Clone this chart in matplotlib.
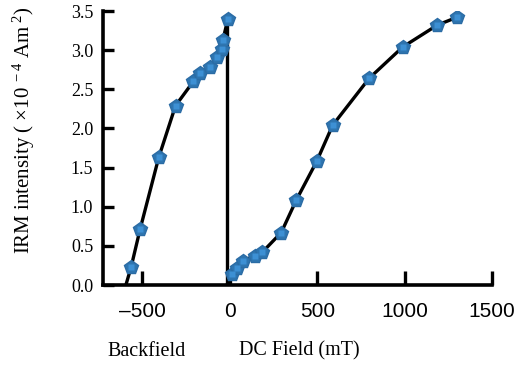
import matplotlib
matplotlib.use("Agg")
import matplotlib.pyplot as plt

# --- data ---
backfield_field = [-565, -514, -407, -311, -209, -170, -113, -73, -45, -40, -11]
backfield_irm = [0.23, 0.71, 1.63, 2.29, 2.60, 2.71, 2.79, 2.91, 3.02, 3.13, 3.40]
backfield_line_start = (-595, 0.0)

dc_field = [11, 40, 73, 141, 186, 294, 379, 497, 588, 797, 989, 1187, 1300]
dc_irm = [0.14, 0.22, 0.31, 0.37, 0.42, 0.67, 1.08, 1.58, 2.04, 2.64, 3.04, 3.32, 3.42]

reset_field = -17
reset_top = 3.45

x_ticks = [-500, 0, 500, 1000, 1500]
x_ticklabels = ["\u2013500", "0", "500", "1000", "1500"]
y_ticks = [0.0, 0.5, 1.0, 1.5, 2.0, 2.5, 3.0, 3.5]
y_ticklabels = ["0.0", "0.5", "1.0", "1.5", "2.0", "2.5", "3.0", "3.5"]

plt.rcParams["mathtext.fontset"] = "custom"
plt.rcParams["mathtext.rm"] = "Liberation Serif"
plt.rcParams["mathtext.it"] = "Liberation Serif"

fig = plt.figure(figsize=(5.27, 3.67), dpi=100)
ax = fig.add_axes([103 / 527, 1 - 285 / 367, (492 - 103) / 527, (285 - 11) / 367])

line_kw = dict(color="black", lw=2.4, solid_capstyle="round", zorder=2)
ax.plot([backfield_line_start[0]] + backfield_field,
        [backfield_line_start[1]] + backfield_irm, **line_kw)
ax.plot([reset_field, reset_field], [0, reset_top], **line_kw)
ax.plot([reset_field] + dc_field, [0.0] + dc_irm, **line_kw)

mk_outer = dict(ls="none", marker="p", ms=10.5, mfc="#2e75b0", mec="#2b6ca5", mew=1.0, zorder=3)
mk_inner = dict(ls="none", marker="s", ms=4, mfc="#3d90d4", mec="none", zorder=4)
for xs, ys in [(backfield_field, backfield_irm), (dc_field, dc_irm)]:
    ax.plot(xs, ys, **mk_outer)
    ax.plot(xs, ys, **mk_inner)

ax.set_xlim(-726, 1500)
ax.set_ylim(0, 3.5)
for s in ["top", "right"]:
    ax.spines[s].set_visible(False)
for s in ["left", "bottom"]:
    ax.spines[s].set_linewidth(2.6)
ax.spines["bottom"].set_bounds(-726, 1500)

ax.set_xticks(x_ticks)
ax.set_xticklabels(x_ticklabels, fontfamily="Liberation Sans", fontsize=15)
ax.set_yticks(y_ticks)
ax.set_yticklabels(y_ticklabels, fontfamily="Liberation Serif", fontsize=13)
ax.tick_params(axis="x", direction="in", length=10, width=2.4, pad=12)
ax.tick_params(axis="y", direction="in", length=8, width=2.4, pad=7)

fig.text(24 / 527, 1 - 130 / 367,
         "IRM intensity ( \u00d710$^{\\ -4}$ Am$^{\\ 2}$)",
         rotation=90, ha="center", va="center",
         fontfamily="Liberation Serif", fontsize=15)
fig.text(147 / 527, 1 - 351 / 367, "Backfield", ha="center", va="center",
         fontfamily="Liberation Serif", fontsize=14.5)
fig.text(299 / 527, 1 - 351 / 367, "DC Field (mT)", ha="center", va="center",
         fontfamily="Liberation Serif", fontsize=14.5)

fig.savefig("out.png", dpi=100)
